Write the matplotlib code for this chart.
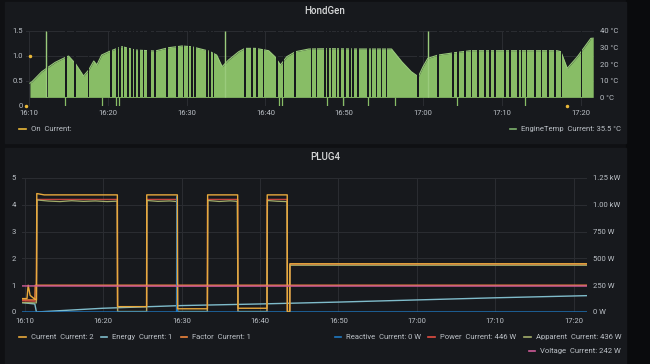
import matplotlib.pyplot as plt
from matplotlib.patches import Rectangle
from matplotlib.lines import Line2D

plt.rcParams['font.family'] = ['Roboto', 'DejaVu Sans']

W, H = 650, 364

# ---------------- HondGen (minutes after 16:10) ----------------
temp_t = [0.1, 0.36, 1.6, 3.3, 4.6, 5.0, 5.85, 6.9, 7.55, 8.2, 8.6, 9.2, 10.1, 11.4, 11.8,
          13.5, 16.0, 17.7, 19.4, 20.6, 22.8, 23.8, 24.5, 25.3, 26.6, 27.4, 28.7, 30.4,
          31.2, 31.9, 32.7, 33.8, 35.5, 38.0, 42.0, 46.0, 47.3, 48.5, 49.4, 50.0, 50.6,
          51.9, 54.0, 56.0, 67.0, 67.5, 68.3, 69.6, 71.3, 71.6]
temp_v = [8.5, 9.4, 15.4, 21.0, 24.0, 24.8, 20.4, 12.8, 16.4, 21.8, 19.5, 25.4, 27.4, 29.8, 30.4,
          28.4, 27.8, 29.8, 30.8, 30.4, 27.8, 25.4, 18.4, 22.4, 27.4, 29.4, 29.4, 28.0,
          24.4, 19.4, 24.4, 27.4, 29.0, 29.2, 29.0, 29.0, 21.4, 15.4, 12.4, 18.4, 23.4,
          25.4, 26.8, 28.0, 28.0, 27.4, 17.4, 24.4, 35.4, 35.5]
# moments where the reading dropped to 0 °C
drop_t = [2.34, 4.71, 5.85, 7.55, 10.42, 11.14, 11.57, 11.99, 12.54, 13.05, 13.47, 13.98,
          14.53, 15.08, 15.37, 16.01, 17.49, 18.76, 19.6, 20.24, 20.66, 21.08, 22.56, 22.99,
          23.41, 27.43, 28.27, 28.91, 29.75, 31.45, 32.29, 33.77, 35.85, 36.48, 37.54, 37.96,
          38.38, 39.02, 39.44, 40.08, 40.71, 41.13, 41.77, 43.04, 43.46, 44.10, 44.73, 45.36,
          49.38, 51.92, 53.82, 54.46, 55.30, 56.15, 57.00, 57.84, 58.48, 59.11, 60.38, 61.02,
          62.07, 62.50, 63.13, 64.19, 65.03, 65.88, 66.73, 67.57, 70.11]
# moments where the reading went below 0 °C
neg_t = [4.58, 9.24, 11.06, 11.35, 31.66, 32.08, 37.75, 39.87, 43.04, 46.42, 54.25, 62.92]
# short spikes to 40 °C
spike_t = [2.13, 24.8, 50.6]
on_t = [-0.4, 0.14, 68.3]
on_v = [0, 1.0, 0]

tick_min = [0, 10, 20, 30, 40, 50, 60, 70]
tick_lbl = ['16:10', '16:20', '16:30', '16:40', '16:50', '17:00', '17:10', '17:20']

# ---------------- PLUG4 ----------------
cur_t = [-0.36, 0.3, 0.45, 0.7, 1.2, 1.5, 1.55, 2.5, 11.82, 11.85, 15.55, 15.57, 19.47, 19.5,
         23.3, 23.33, 27.16, 27.2, 30.9, 30.93, 33.48, 33.5, 33.8, 33.82, 71.7]
cur_v = [0.5, 0.5, 1.0, 0.62, 0.5, 0.45, 4.42, 4.37, 4.37, 0.2, 0.2, 4.37, 4.37, 0.12,
         0.12, 4.37, 4.37, 0.14, 0.14, 4.37, 4.37, 0.0, 0.0, 1.8, 1.8]
energy_t = [-0.36, 1.3, 1.5, 10, 20, 30, 40, 50, 60, 71.7]
energy_v = [0.35, 0.3, 0.0, 0.14, 0.24, 0.3, 0.37, 0.45, 0.53, 0.61]
factor_t = [-0.36, 1.3, 1.35, 71.7]
factor_v = [0.45, 0.45, 1.0, 1.0]

reactive_t = [-0.36, 19.37, 19.4, 19.43, 71.7]
reactive_v = [0, 0, 1075, 0, 0]
power_t = [-0.36, 1.5, 1.55, 11.82, 11.85, 15.55, 15.57, 19.47, 19.5, 23.3, 23.33, 27.16,
           27.2, 30.9, 30.93, 33.48, 33.5, 33.8, 33.82, 71.7]
power_v = [105, 100, 1050, 1050, 2, 2, 1050, 1050, 2, 2, 1050, 1050,
           2, 2, 1050, 1050, 2, 2, 446, 446]
apparent_t = [-0.36, 1.5, 1.58, 3, 4.5, 6, 7.5, 9, 10.5, 11.8, 11.85, 15.55,
              15.6, 17, 18.5, 19.45, 19.5, 23.3, 23.36, 24.8, 26.2, 27.1, 27.2, 30.9,
              30.96, 32.2, 33.45, 33.5, 33.8, 33.82, 71.7]
apparent_v = [88, 85, 1045, 1035, 1030, 1038, 1032, 1036, 1030, 1034, 5, 5,
              1040, 1032, 1036, 1030, 5, 5, 1040, 1031, 1037, 1032, 5, 5,
              1040, 1033, 1030, 5, 5, 436, 436]
voltage_t = [-0.36, 20, 40, 71.7]
voltage_v = [243, 241, 242, 242]

page_bg = '#0f1013'
panel_bg = '#17191d'
grid_c = '#2b2d32'
txt_c = '#bcc1c7'
title_c = '#d8d9da'


def fx(x):
    return x / W


def fy(y):
    return 1 - y / H


fig = plt.figure(figsize=(6.5, 3.64), dpi=100, facecolor=page_bg)
fig.add_artist(Rectangle((fx(626), 0), 1 - fx(626), 1, transform=fig.transFigure,
                         color='#0a0b0d', zorder=0))
for y0, y1 in [(2, 143), (148, 368)]:
    fig.add_artist(Rectangle((fx(5), fy(y1)), fx(626) - fx(5), fy(y0) - fy(y1),
                             transform=fig.transFigure, color=panel_bg, zorder=0))


def style(ax):
    for s in ax.spines.values():
        s.set_visible(False)
    ax.tick_params(length=0, colors=txt_c, labelsize=5.5)
    ax.set_facecolor('none')


# ---- top panel ----
ax1 = fig.add_axes([fx(26), fy(105.7), fx(594) - fx(26), 75 / H])
style(ax1)
ax1.set_xlim(-0.4, 71.7)
ax1.set_ylim(0, 1.5)
ax1.set_yticks([0, 0.5, 1.0, 1.5], ['0', '0.5', '1.0', '1.5'])
ax1.set_xticks(tick_min, tick_lbl)
ax1.tick_params(axis='y', pad=2)
ax1.tick_params(axis='x', pad=3)
ax1.grid(True, color=grid_c, lw=0.7)

ax1r = ax1.twinx()
style(ax1r)
ax1r.set_ylim(-5, 40)
ax1r.set_yticks([0, 10, 20, 30, 40], ['0 °C', '10 °C', '20 °C', '30 °C', '40 °C'])
ax1r.tick_params(axis='y', pad=4.3)

green_fill = '#88bd66'
green_line = '#9acb7c'
ax1r.fill_between(temp_t, 0, temp_v, color=green_fill, lw=0, zorder=2)
ax1r.plot(temp_t, temp_v, color=green_line, lw=0.8, zorder=2)
ax1r.bar(drop_t, 45, bottom=0, width=0.22, color=panel_bg, lw=0, zorder=3)
ax1r.vlines(spike_t, 0, 40, color=green_line, lw=1.0, zorder=4)
ax1r.vlines(neg_t, -5, 0, color=green_fill, lw=0.9, zorder=4)
ax1r.plot(on_t, on_v, ls='none', marker='o', ms=1.5, color='#EAB839',
          transform=ax1.transData, zorder=5, clip_on=False)

fig.text(0.5, fy(10.5), 'HondGen', color=title_c, fontsize=7, fontweight=500,
         ha='center', va='center')

# ---- bottom panel ----
ax2 = fig.add_axes([fx(21.5), fy(312), fx(587) - fx(21.5), 134 / H])
style(ax2)
ax2.set_xlim(-0.4, 71.7)
ax2.set_ylim(0, 5)
ax2.set_yticks([0, 1, 2, 3, 4, 5], ['0', '1', '2', '3', '4', '5'])
ax2.set_xticks(tick_min, tick_lbl)
ax2.tick_params(axis='y', pad=4)
ax2.tick_params(axis='x', pad=4.3)
ax2.grid(True, color=grid_c, lw=0.7)

ax2r = ax2.twinx()
style(ax2r)
ax2r.set_ylim(0, 1250)
ax2r.set_yticks([0, 250, 500, 750, 1000, 1250],
                ['0 W', '250 W', '500 W', '750 W', '1.00 kW', '1.25 kW'])
ax2r.tick_params(axis='y', pad=4)

c_current = '#e8a93c'
c_energy = '#7fbccb'
c_factor = '#EF843C'
c_reactive = '#1F78C1'
c_power = '#E24D42'
c_apparent = '#a3ad6a'
c_voltage = '#cf5a98'

ax2.plot(factor_t, factor_v, color=c_factor, lw=1.0)
ax2.plot(energy_t, energy_v, color=c_energy, lw=1.0)
ax2r.plot(power_t, power_v, color=c_power, lw=1.0, alpha=0.85)
ax2r.plot(apparent_t, apparent_v, color=c_apparent, lw=0.9)
ax2r.plot(reactive_t, reactive_v, color=c_reactive, lw=1.0)
# current belongs to the left axis but is drawn above the watt series
ax2r.plot(cur_t, cur_v, color=c_current, lw=1.0, transform=ax2.transData)
ax2r.plot(voltage_t, voltage_v, color=c_voltage, lw=1.0)

fig.text(0.5, fy(157), 'PLUG4', color=title_c, fontsize=7, fontweight=500,
         ha='center', va='center')


# ---- legends ----
def legend_item(x0, x1, y, color, label, tx, ha='left'):
    fig.add_artist(Line2D([fx(x0), fx(x1)], [fy(y), fy(y)], transform=fig.transFigure,
                          color=color, lw=1.2))
    fig.text(fx(tx), fy(y), label, color=txt_c, fontsize=5.5, ha=ha, va='center')


legend_item(19, 26, 128.5, '#EAB839', 'On  Current:', 31)
legend_item(510, 516, 128.5, '#7EB26D', 'EngineTemp  Current: 35.5 °C', 621, 'right')

legend_item(19, 26, 337.3, c_current, 'Current  Current: 2', 30.7)
legend_item(101, 107, 337.3, c_energy, 'Energy  Current: 1', 112)
legend_item(181, 187, 337.3, c_factor, 'Factor  Current: 1', 192)
legend_item(335, 341, 337.3, c_reactive, 'Reactive  Current: 0 W', 421, 'right')
legend_item(428, 435, 337.3, c_power, 'Power  Current: 446 W', 516, 'right')
legend_item(524, 531, 337.3, c_apparent, 'Apparent  Current: 436 W', 621, 'right')
legend_item(529, 535, 351, c_voltage, 'Voltage  Current: 242 W', 621, 'right')

fig.savefig('out.png', dpi=100, facecolor=fig.get_facecolor())
